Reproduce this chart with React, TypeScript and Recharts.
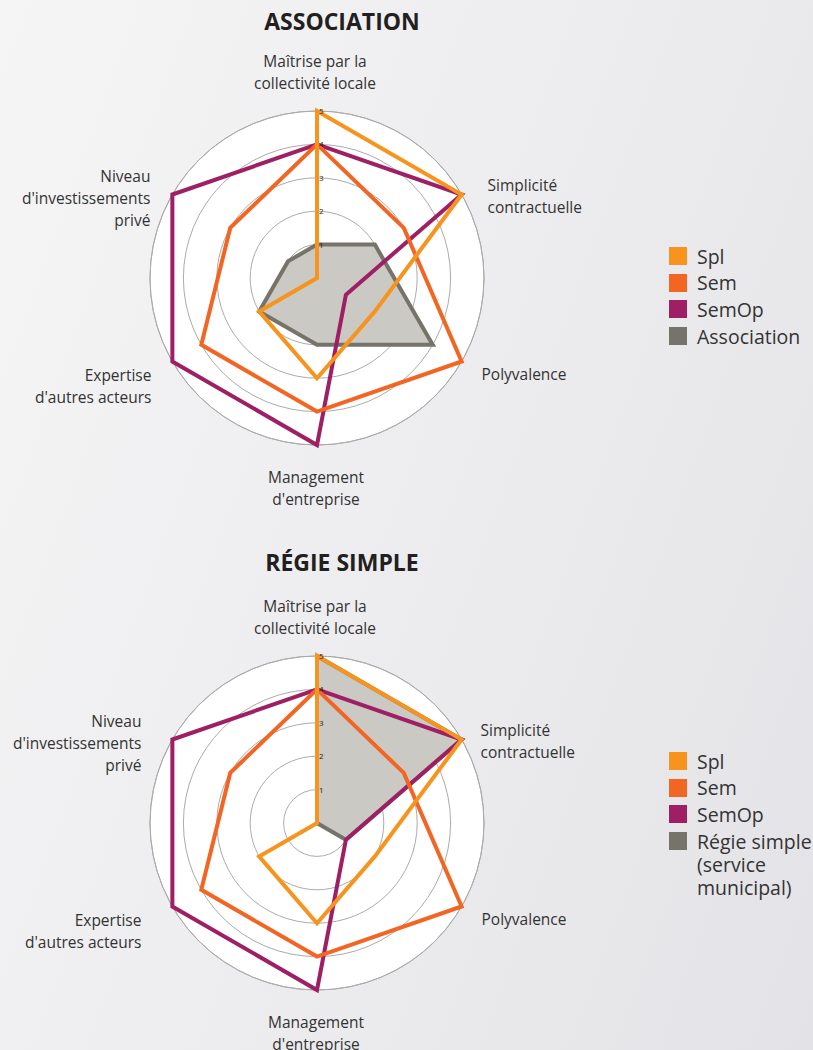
import { RadarChart, Radar, PolarGrid, PolarAngleAxis, PolarRadiusAxis, Legend } from 'recharts'

const FONT = '"Open Sans", "Noto Sans", sans-serif'

const categories = ['maitrise', 'simplicite', 'polyvalence', 'management', 'expertise', 'niveau']
const categoryLabels = [
  ['Maîtrise par la', 'collectivité locale'],
  ['Simplicité', 'contractuelle'],
  ['Polyvalence'],
  ['Management', "d'entreprise"],
  ['Expertise', "d'autres acteurs"],
  ['Niveau', "d'investissements", 'privé'],
]

const splValues = [5, 5, 2, 3, 2, 0]
const semValues = [4, 3, 5, 4, 4, 3]
const semOpValues = [4, 5, 1, 5, 5, 5]
const associationValues = [1, 2, 4, 2, 2, 1]
const regieValues = [5, 5, 1, 0, 0, 0]

const COLORS = {
  spl: '#F7941D',
  sem: '#F26522',
  semOp: '#9E1F63',
  own: '#76736A',
  ownFill: '#CBC9C3',
}

// label placement relative to the default tick point
const labelPos = [
  { anchor: 'middle', dx: -2, dy: -36 },
  { anchor: 'start', dx: 19, dy: 0 },
  { anchor: 'start', dx: 13, dy: 14 },
  { anchor: 'middle', dx: -1, dy: 30 },
  { anchor: 'end', dx: -14, dy: 15 },
  { anchor: 'end', dx: -15, dy: -9 },
]

function buildData(own: number[]) {
  return categories.map((c, i) => ({
    axis: c,
    spl: splValues[i],
    sem: semValues[i],
    semOp: semOpValues[i],
    own: own[i],
  }))
}

function AngleTick(props: any) {
  const { x, y, payload, shiftX } = props
  const i = categories.indexOf(payload.value)
  const p = labelPos[i]
  const extra = shiftX && shiftX[i] ? shiftX[i] : 0
  const tx = x + p.dx + extra
  return (
    <text x={tx} y={y + p.dy} textAnchor={p.anchor} fontSize={15.5} fill="#333" fontFamily={FONT}>
      {categoryLabels[i].map((line, k) => (
        <tspan key={k} x={tx} dy={k === 0 ? 0 : 22}>
          {line}
        </tspan>
      ))}
    </text>
  )
}

function RadiusTick(props: any) {
  const { x, y, payload } = props
  if (payload.value === 0) return null
  return (
    <text x={x + 2} y={y + 3} fontSize={8} fill="#222" fontFamily={FONT}>
      {payload.value}
    </text>
  )
}

function LegendList({ items }: { items: { color: string; lines: string[] }[] }) {
  return (
    <div style={{ fontFamily: FONT, fontSize: 19.5, color: '#333', lineHeight: '23px' }}>
      {items.map((it, i) => (
        <div key={i} style={{ display: 'flex', alignItems: 'flex-start', marginBottom: 3.7 }}>
          <div style={{ width: 18, height: 18, background: it.color, marginTop: 2.5, marginRight: 10, flexShrink: 0 }} />
          <div>
            {it.lines.map((l, k) => (
              <div key={k}>{l}</div>
            ))}
          </div>
        </div>
      ))}
    </div>
  )
}

function Panel({ title, own, ownLines, titleTop, legendTop, shiftX }: any) {
  const data = buildData(own)
  const legendItems = [
    { color: COLORS.spl, lines: ['Spl'] },
    { color: COLORS.sem, lines: ['Sem'] },
    { color: COLORS.semOp, lines: ['SemOp'] },
    { color: COLORS.own, lines: ownLines },
  ]
  return (
    <div style={{ position: 'relative', width: 813, height: 545 }}>
      <div
        style={{
          position: 'absolute',
          left: 192,
          width: 300,
          top: titleTop,
          textAlign: 'center',
          fontFamily: FONT,
          fontWeight: 700,
          fontSize: 23,
          lineHeight: '26px',
          color: '#231F20',
        }}
      >
        {title}
      </div>
      <RadarChart width={813} height={545} data={data} cx={317} cy={278} outerRadius={167} startAngle={90} endAngle={-270}>
        <PolarGrid gridType="circle" radialLines={false} stroke="#ABABAB" fill="#ffffff" fillOpacity={1} />
        <PolarAngleAxis dataKey="axis" tick={<AngleTick shiftX={shiftX} />} tickLine={false} axisLine={false} />
        <PolarRadiusAxis angle={90} domain={[0, 5]} tickCount={6} axisLine={false} tick={<RadiusTick />} />
        <Radar
          dataKey="own"
          stroke={COLORS.own}
          strokeWidth={4}
          fill={COLORS.ownFill}
          fillOpacity={1}
          isAnimationActive={false}
        />
        <Radar dataKey="semOp" stroke={COLORS.semOp} strokeWidth={4} fill="none" fillOpacity={0} isAnimationActive={false} />
        <Radar dataKey="sem" stroke={COLORS.sem} strokeWidth={4} fill="none" fillOpacity={0} isAnimationActive={false} />
        <Radar dataKey="spl" stroke={COLORS.spl} strokeWidth={4} fill="none" fillOpacity={0} isAnimationActive={false} />
        <Legend
          verticalAlign="top"
          align="left"
          wrapperStyle={{ left: 669, top: legendTop, width: 150 }}
          content={() => <LegendList items={legendItems} />}
        />
      </RadarChart>
    </div>
  )
}

export default function App() {
  return (
    <div
      style={{
        position: 'absolute',
        left: 0,
        top: 0,
        width: 813,
        height: 1050,
        overflow: 'hidden',
        background: 'linear-gradient(110deg, #f5f5f6 0%, #ececee 55%, #e3e3e7 100%)',
      }}
    >
      <Panel title="ASSOCIATION" own={associationValues} ownLines={['Association']} titleTop={8} legendTop={244.5} />
      <Panel
        title="RÉGIE SIMPLE"
        own={regieValues}
        ownLines={['Régie simple', '(service', 'municipal)']}
        titleTop={4}
        legendTop={204.5}
        shiftX={[0, -7, 0, 0, -10, -9]}
      />
    </div>
  )
}
